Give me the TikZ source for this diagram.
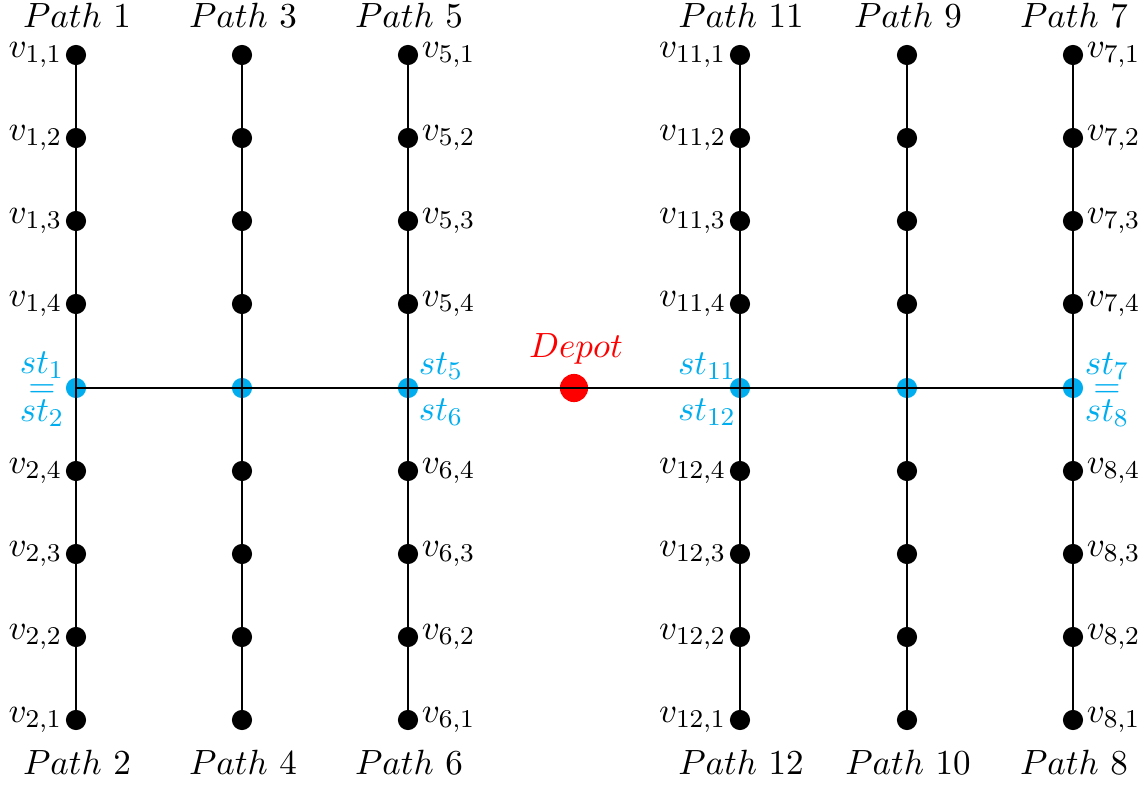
\documentclass[11pt,tikz,border=0pt]{standalone}
\usetikzlibrary{calc}
\definecolor{stblue}{RGB}{0,174,239}
\begin{document}
\begin{tikzpicture}[x=0.3125pt,y=-0.3125pt,
  vdot/.style={circle,fill=black,inner sep=0pt,minimum size=6.3pt},
  sdot/.style={circle,fill=stblue,inner sep=0pt,minimum size=6.3pt},
  ddot/.style={circle,fill=red,inner sep=0pt,minimum size=8.8pt},
  edge/.style={line width=0.8pt},
  lab/.style={inner sep=0.8pt},
  pathlab/.style={anchor=base,inner sep=0pt},
  stlab/.style={text=stblue,anchor=base,inner sep=0pt},
  eqlab/.style={text=stblue,inner sep=0pt}]
\useasboundingbox (0,0) rectangle (1146,786);
% columns
\foreach \x/\p/\q in {76/1/2, 242/3/4, 408/5/6, 740/11/12, 907/9/10, 1073/7/8}{
  \foreach \k/\y in {1/55,2/138,3/221,4/304}{
    \node[vdot] (v\p-\k) at (\x,\y) {};
  }
  \foreach \k/\y in {4/471,3/554,2/637,1/720}{
    \node[vdot] (v\q-\k) at (\x,\y) {};
  }
  \node[sdot] (m\p) at (\x,388) {};
  \node[pathlab] (P\p) at (\x+1,27) {$Path~\p$};
  \node[pathlab] (P\q) at (\x+1,774) {$Path~\q$};
}
% depot
\node[ddot] (dep) at (574,388) {};
\node[text=red,anchor=base,inner sep=0pt] (deplab) at (576,357) {$Depot$};
% edges
\foreach \p/\q in {1/2, 3/4, 5/6, 11/12, 9/10, 7/8}{
  \draw[edge] (v\p-1.center) -- (v\q-1.center);
}
\draw[edge] (m1.center) -- (m7.center);
% vertex labels
\foreach \p/\q in {1/2, 11/12}{
  \foreach \k in {1,...,4}{
    \node[lab,anchor=east] (l\p-\k) at (v\p-\k.west) {$v_{\p,\k}$};
    \node[lab,anchor=east] (l\q-\k) at (v\q-\k.west) {$v_{\q,\k}$};
  }
}
\foreach \p/\q in {5/6, 7/8}{
  \foreach \k in {1,...,4}{
    \node[lab,anchor=west] (l\p-\k) at (v\p-\k.east) {$v_{\p,\k}$};
    \node[lab,anchor=west] (l\q-\k) at (v\q-\k.east) {$v_{\q,\k}$};
  }
}
% st labels
\node[stlab] (st1) at (42,373) {$st_1$};
\node[eqlab] (eq1) at (42,391) {$=$};
\node[stlab] (st2) at (42,421) {$st_2$};
\node[stlab] (st5) at (441,374) {$st_5$};
\node[stlab] (st6) at (441,420) {$st_6$};
\node[stlab] (st11) at (707,374) {$st_{11}$};
\node[stlab] (st12) at (707,420) {$st_{12}$};
\node[stlab] (st7) at (1107,374) {$st_7$};
\node[eqlab] (eq7) at (1107,391) {$=$};
\node[stlab] (st8) at (1107,421) {$st_8$};
\end{tikzpicture}
\end{document}
